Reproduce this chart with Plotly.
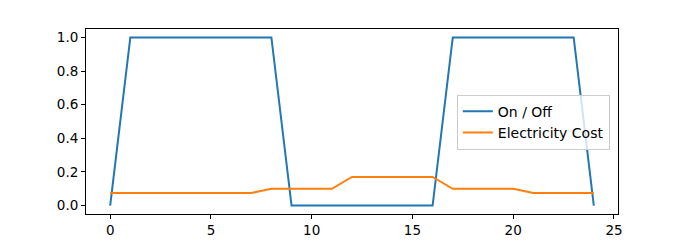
import plotly.graph_objects as go

hours = list(range(25))
on_off = [0, 1, 1, 1, 1, 1, 1, 1, 1, 0, 0, 0, 0, 0, 0, 0, 0, 1, 1, 1, 1, 1, 1, 1, 0]
cost = [0.075, 0.075, 0.075, 0.075, 0.075, 0.075, 0.075, 0.075,
        0.1, 0.1, 0.1, 0.1,
        0.17, 0.17, 0.17, 0.17, 0.17,
        0.1, 0.1, 0.1, 0.1,
        0.075, 0.075, 0.075, 0.075]
x_ticks = [0, 5, 10, 15, 20, 25]
y_ticks = [0.0, 0.2, 0.4, 0.6, 0.8, 1.0]

fig = go.Figure()
fig.add_trace(go.Scatter(x=hours, y=on_off, mode="lines", name="On / Off",
                         line=dict(color="#1f77b4", width=2)))
fig.add_trace(go.Scatter(x=hours, y=cost, mode="lines", name="Electricity Cost",
                         line=dict(color="#ff7f0e", width=2)))

axis_common = dict(showgrid=False, zeroline=False, showline=True, linecolor="black",
                   linewidth=1, mirror=True, ticks="outside", ticklen=4, tickwidth=1,
                   tickcolor="black", automargin=False,
                   tickfont=dict(family="DejaVu Sans", size=13.5, color="black"))

fig.update_xaxes(range=[-1.2, 25.2], tickvals=x_ticks, ticktext=[str(v) for v in x_ticks], **axis_common)
fig.update_yaxes(range=[-0.05, 1.05], tickvals=y_ticks, ticktext=[f"{v:.1f}" for v in y_ticks], **axis_common)

fig.update_layout(
    width=687, height=240,
    margin=dict(l=86, r=69, t=29, b=26),
    plot_bgcolor="white", paper_bgcolor="white",
    font=dict(family="DejaVu Sans", size=13.5, color="black"),
    legend=dict(x=0.697, y=0.645, xanchor="left", yanchor="top",
                bgcolor="rgba(255,255,255,0.8)", bordercolor="#cccccc", borderwidth=1,
                font=dict(family="DejaVu Sans", size=14, color="black"),
                itemwidth=30, tracegroupgap=0),
    showlegend=True,
)

fig.write_html("out.html")
